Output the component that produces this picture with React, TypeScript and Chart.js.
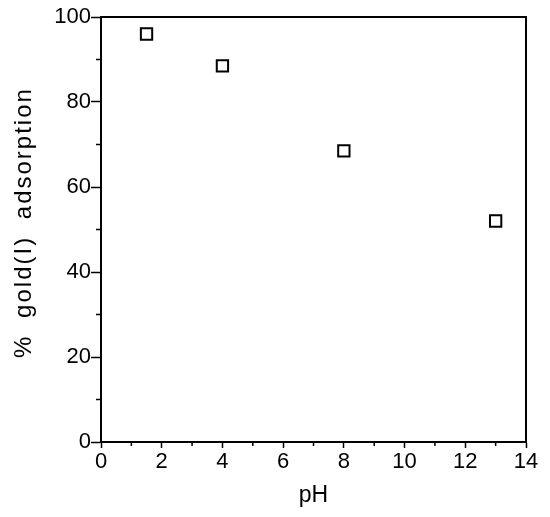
import React, { useEffect, useRef } from "react";
import { Chart, registerables } from "chart.js";

Chart.register(...registerables);

const phValues = [1.5, 4, 8, 13];
const adsorption = [96, 88.5, 68.5, 52];
const xMinorTicks = [1, 3, 5, 7, 9, 11, 13];
const yMinorTicks = [10, 30, 50, 70, 90];
const xTitle = "pH";
const yTitle = "% gold(I) adsorption";

const FONT = "'Liberation Sans', Arial, sans-serif";

const framePlugin = {
  id: "frame",
  afterDraw(chart: any) {
    const { ctx, chartArea } = chart;
    const xs = chart.scales.x;
    const ys = chart.scales.y;
    ctx.save();
    ctx.strokeStyle = "#000";
    ctx.lineWidth = 2;
    ctx.strokeRect(chartArea.left, chartArea.top, chartArea.right - chartArea.left, chartArea.bottom - chartArea.top);
    // minor ticks
    ctx.lineWidth = 1.5;
    ctx.beginPath();
    for (const v of xMinorTicks) {
      const px = xs.getPixelForValue(v);
      ctx.moveTo(px, chartArea.bottom);
      ctx.lineTo(px, chartArea.bottom + 4);
    }
    for (const v of yMinorTicks) {
      const py = ys.getPixelForValue(v);
      ctx.moveTo(chartArea.left, py);
      ctx.lineTo(chartArea.left - 5, py);
    }
    ctx.stroke();
    // y title
    const cy = (ys.getPixelForValue(0) + ys.getPixelForValue(100)) / 2 - 7;
    ctx.translate(31, cy);
    ctx.rotate(-Math.PI / 2);
    ctx.font = `24px ${FONT}`;
    (ctx as any).letterSpacing = "2px";
    (ctx as any).wordSpacing = "8px";
    ctx.fillStyle = "#000";
    ctx.textAlign = "center";
    ctx.textBaseline = "alphabetic";
    ctx.fillText(yTitle, 0, 0);
    ctx.restore();
  },
};

export default function App() {
  const ref = useRef<HTMLCanvasElement>(null);
  useEffect(() => {
    if (!ref.current) return;
    const chart = new Chart(ref.current, {
      type: "scatter",
      data: {
        datasets: [
          {
            data: phValues.map((x, i) => ({ x, y: adsorption[i] })),
            pointStyle: "rect",
            pointRadius: 8,
            pointBorderWidth: 2,
            pointBorderColor: "#000",
            pointBackgroundColor: "#fff",
            showLine: false,
          },
        ],
      },
      options: {
        animation: false,
        responsive: false,
        maintainAspectRatio: false,
        layout: { padding: { top: 17, right: 24, left: 0, bottom: 0 } },
        plugins: { legend: { display: false }, tooltip: { enabled: false } },
        scales: {
          x: {
            type: "linear",
            min: 0,
            max: 14,
            ticks: { stepSize: 2, color: "#000", padding: 1, font: { family: FONT, size: 22 } },
            grid: { drawOnChartArea: false, drawTicks: true, tickLength: 6, tickColor: "#000", tickWidth: 1.5 },
            border: { display: true, color: "#000", width: 2 },
            title: { display: true, text: xTitle, color: "#000", font: { family: FONT, size: 23 }, padding: { top: 0, bottom: 8 } },
            afterFit: (s: any) => { s.height = 75; },
          },
          y: {
            type: "linear",
            min: 0,
            max: 100,
            ticks: { stepSize: 20, color: "#000", padding: 0, font: { family: FONT, size: 22 } },
            grid: { drawOnChartArea: false, drawTicks: true, tickLength: 10, tickColor: "#000", tickWidth: 1.5 },
            border: { display: true, color: "#000", width: 2 },
            afterFit: (s: any) => { s.width = 101; },
          },
        },
      },
      plugins: [framePlugin],
    });
    return () => chart.destroy();
  }, []);
  return (
    <div style={{ position: "absolute", left: 0, top: 0, width: 550, height: 517, background: "#fff" }}>
      <canvas ref={ref} width={550} height={517} style={{ width: 550, height: 517 }} />
    </div>
  );
}
